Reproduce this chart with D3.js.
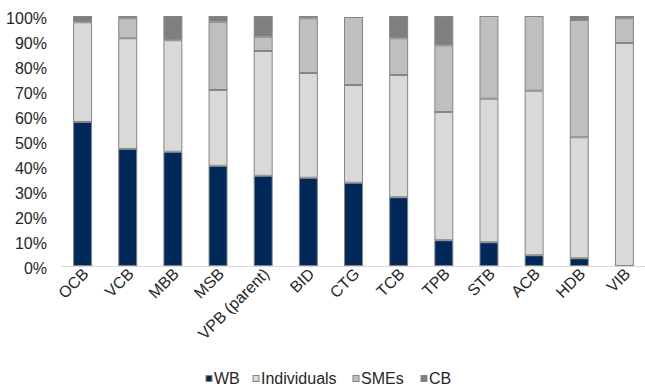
<!DOCTYPE html>
<html><head><meta charset="utf-8">
<script src="https://cdn.jsdelivr.net/npm/d3@7"></script>
<style>
body{margin:0;background:#fff;}
text{font-family:"Liberation Sans",Arial,sans-serif;fill:#262626;}
</style></head>
<body><svg id="c" width="645" height="389"></svg>
<script>
const categories = ["OCB","VCB","MBB","MSB","VPB (parent)","BID","CTG","TCB","TPB","STB","ACB","HDB","VIB"];
const seriesNames = ["WB","Individuals","SMEs","CB"];
const WB          = [57.6,46.8,45.7,40.1,36.1,35.3,33.3,27.5,10.3,9.5,4.3,3.1,0];
const Individuals = [39.9,44.3,44.6,30.3,49.9,41.9,39.1,48.9,51.3,57.4,65.8,48.4,89.2];
const SMEs        = [0,8.0,0,27.3,5.7,21.9,27.2,14.7,26.7,33.1,29.9,46.9,9.9];
const CB          = [2.5,0.9,9.7,2.3,8.3,0.9,0.4,8.9,11.7,0,0,1.6,0.9];
const yTicks = [0,10,20,30,40,50,60,70,80,90,100];
const colors = ["#00295a","#d9d9d9","#bfbfbf","#7f7f7f"];

const svg = d3.select("#c");
const x = d3.scaleBand().domain(categories).range([60,647]).paddingInner(0.58).paddingOuter(0.29);
const y = d3.scaleLinear().domain([0,100]).range([266,16]);

const rows = categories.map((c,i)=>({cat:c, WB:WB[i], Individuals:Individuals[i], SMEs:SMEs[i], CB:CB[i]}));
const stack = d3.stack().keys(seriesNames)(rows);

svg.append("g").selectAll("g").data(stack).join("g")
  .attr("fill",(d,i)=>colors[i])
  .selectAll("rect").data(d=>d.map(v=>({v,cat:v.data.cat}))).join("rect")
  .filter(d=>d.v[1]-d.v[0]>0)
  .attr("x",d=>x(d.cat)+0.5)
  .attr("y",d=>y(d.v[1])+0.5)
  .attr("width",x.bandwidth()-1)
  .attr("height",d=>Math.max(0,y(d.v[0])-y(d.v[1])-1))
  .attr("stroke","#858585").attr("stroke-width",1);

// x axis line
const xa = svg.append("g").attr("transform","translate(0,266)")
  .call(d3.axisBottom(x).tickSize(0).tickPadding(0));
xa.select(".domain").attr("stroke","#d9d9d9").attr("d","M61,0.5H645");
xa.selectAll(".tick text")
  .attr("text-anchor","end").attr("font-size",16)
  .attr("dy",null).attr("y",0)
  .attr("transform","translate(7,9) rotate(-45)")
  .style("font-family","'Liberation Sans',Arial,sans-serif").attr("fill","#262626");

// y axis labels
const ya = svg.append("g").attr("transform","translate(47,0)")
  .call(d3.axisLeft(y).tickValues(yTicks).tickFormat(d=>d+"%").tickSize(0).tickPadding(0));
ya.select(".domain").remove();
ya.selectAll(".tick text").attr("font-size",16).attr("dy","0.45em")
  .style("font-family","'Liberation Sans',Arial,sans-serif").attr("fill","#262626");

// legend
const legX = [206,253,353,421];
const lg = svg.append("g");
seriesNames.forEach((s,i)=>{
  lg.append("rect").attr("x",legX[i]).attr("y",375.5).attr("width",6).attr("height",6)
    .attr("fill",colors[i]).attr("stroke","#858585").attr("stroke-width",1);
  lg.append("text").attr("x",legX[i]+8).attr("y",378.5).attr("dy","0.35em")
    .attr("font-size",16).text(s);
});
</script></body></html>
